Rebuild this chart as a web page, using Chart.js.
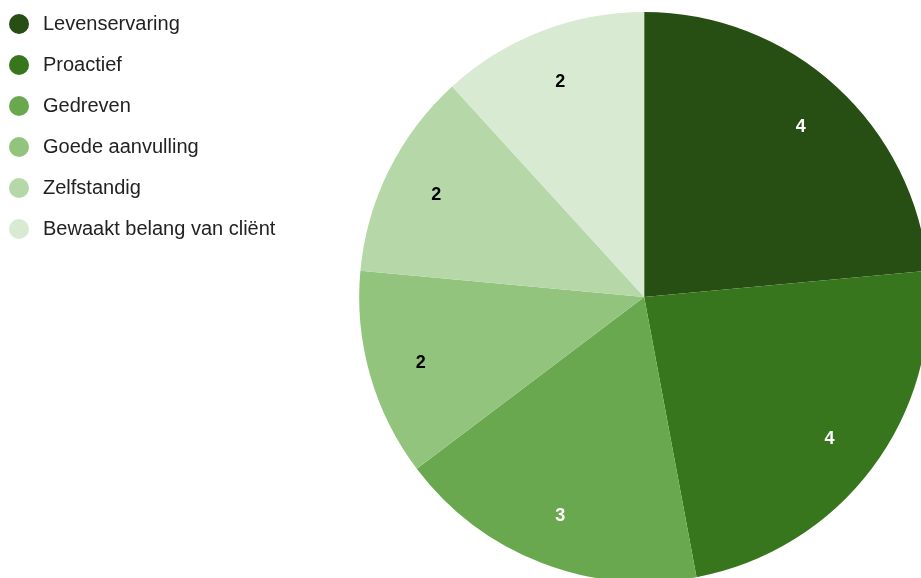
<!DOCTYPE html>
<html>
<head>
<meta charset="utf-8">
<script src="https://cdn.jsdelivr.net/npm/chart.js@4/dist/chart.umd.min.js"></script>
<style>
  html, body { margin: 0; padding: 0; background: #fff; overflow: hidden; }
  body { width: 921px; height: 578px; position: relative; }
  #chart { position: absolute; left: -16px; top: -7px; }
</style>
</head>
<body>
<canvas id="chart" width="1019" height="608"></canvas>
<script>
const categories = ['Levenservaring', 'Proactief', 'Gedreven', 'Goede aanvulling', 'Zelfstandig', 'Bewaakt belang van cliënt']
const values = [4, 4, 3, 2, 2, 2]

const sliceColors = ['#274e13', '#38761d', '#6aa84f', '#93c47d', '#b6d7a8', '#d9ead3']
const labelColors = ['#ffffff', '#ffffff', '#ffffff', '#000000', '#000000', '#000000']

// round legend markers drawn as small canvases so the gap to the text can be wider
function dot(color) {
  const c = document.createElement('canvas')
  c.width = 22
  c.height = 22
  const g = c.getContext('2d')
  g.fillStyle = color
  g.beginPath()
  g.arc(11, 11, 10, 0, Math.PI * 2)
  g.fill()
  return c
}

const sliceLabels = {
  id: 'sliceLabels',
  afterDatasetsDraw(chart) {
    const ctx = chart.ctx
    const meta = chart.getDatasetMeta(0)
    ctx.save()
    ctx.font = 'bold 18px "Liberation Sans", Arial, sans-serif'
    ctx.textAlign = 'center'
    ctx.textBaseline = 'middle'
    meta.data.forEach((arc, i) => {
      const p = arc.getProps(['x', 'y', 'startAngle', 'endAngle', 'outerRadius'], true)
      const mid = (p.startAngle + p.endAngle) / 2
      const r = p.outerRadius * 0.815
      ctx.fillStyle = labelColors[i]
      ctx.fillText(String(values[i]), p.x + Math.cos(mid) * r, p.y + Math.sin(mid) * r + 2)
    })
    ctx.restore()
  }
}

new Chart(document.getElementById('chart'), {
  type: 'pie',
  data: {
    labels: categories,
    datasets: [{
      data: values,
      backgroundColor: sliceColors,
      borderWidth: 0,
      radius: 285
    }]
  },
  options: {
    responsive: false,
    animation: false,
    events: [],
    layout: { padding: 0 },
    plugins: {
      tooltip: { enabled: false },
      legend: {
        position: 'left',
        align: 'start',
        labels: {
          usePointStyle: true,
          pointStyleWidth: 28,
          padding: 21,
          color: '#222222',
          font: { family: '"Liberation Sans", Arial, sans-serif', size: 20 },
          generateLabels(chart) {
            return categories.map((text, i) => ({
              text: text,
              fillStyle: sliceColors[i],
              strokeStyle: sliceColors[i],
              lineWidth: 0,
              pointStyle: dot(sliceColors[i]),
              fontColor: '#222222',
              hidden: false,
              index: i
            }))
          }
        }
      }
    }
  },
  plugins: [sliceLabels]
})
</script>
</body>
</html>
